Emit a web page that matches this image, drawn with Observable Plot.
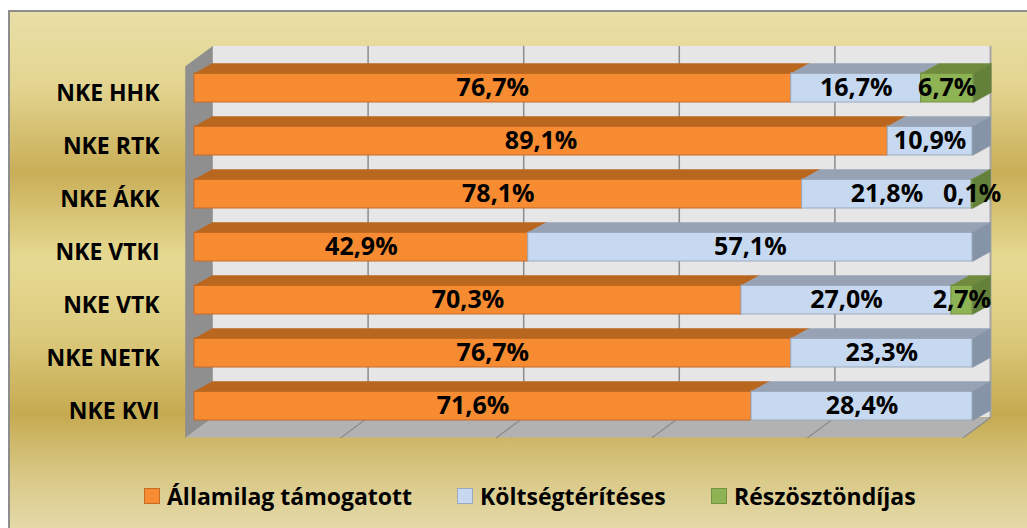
<!DOCTYPE html>
<html>
<head>
<meta charset="utf-8">
<script src="https://cdn.jsdelivr.net/npm/d3@7"></script>
<script src="https://cdn.jsdelivr.net/npm/@observablehq/plot@0.6"></script>
<style>
  html, body { margin: 0; padding: 0; width: 1027px; height: 528px; overflow: hidden; background: #fff; }
  #frame {
    position: absolute; left: 8px; top: 10px; width: 1019px; height: 518px; box-sizing: border-box;
    border: 2px solid #8d8d8d; border-right: none; border-bottom: none;
    background: linear-gradient(to bottom, #e9dfa6 0%, #e3d591 14%, #c9ae57 31%, #e6da93 48%, #dccb7e 62%, #c6aa51 78%, #d9c987 90%, #e4d9a8 100%);
  }
  #chart { position: absolute; left: 0; top: 0; }
  #legend {
    position: absolute; left: 0; top: 480px; width: 1027px; height: 32px;
    font-family: "Open Sans", sans-serif; font-weight: bold; font-size: 23px; color: #000;
  }
  #legend .item { position: absolute; top: 0; display: flex; align-items: center; white-space: nowrap; }
  #legend .sw { width: 14px; height: 14px; border: 1.5px solid; margin-right: 7px; }
</style>
</head>
<body>
<div id="frame"></div>
<div id="chart"></div>
<div id="legend"></div>
<script>
// ---- data ----
const categories = ["NKE HHK", "NKE RTK", "NKE ÁKK", "NKE VTKI", "NKE VTK", "NKE NETK", "NKE KVI"];
const allami  = [76.7, 89.1, 78.1, 42.9, 70.3, 76.7, 71.6];
const koltseg = [16.7, 10.9, 21.8, 57.1, 27.0, 23.3, 28.4];
const resz    = [6.7, 0, 0.1, 0, 2.7, 0, 0];
const seriesNames = ["Államilag támogatott", "Költségtérítéses", "Részösztöndíjas"];
const gridTicks = [20, 40, 60, 80, 100];

// ---- styles ----
const frontColors = ["#f68b32", "#c6d9f1", "#8db354"];
const edgeColors  = ["#c86a2a", "#9aaabd", "#74923f"];
const topColors   = ["#b9661f", "#97a3b4", "#718b3e"];
const sideColors  = ["#a85c1e", "#8594a6", "#64813a"];
const legendLeft  = [144, 457, 711];

// ---- geometry helpers (pixel depth converted to data units) ----
const W = 1027, H = 470;
const xLeft = 194, xRight = 972;
const rowPx = 53, row0 = 87.5;
const ux = 100 / (xRight - xLeft);   // x units per pixel
const uy = 1 / rowPx;                // row units per pixel
const bdx = 18 * ux, bdy = 10 * uy;  // bar depth
const wdx = 27 * ux, wdy = 20 * uy;  // wall depth
const hh = 14.5 * uy;                // half bar height
const backTop = -0.783, backBottom = 6.217;

const series = [allami, koltseg, resz];
const fronts = [], tops = [[], [], []], sides = [[], [], []], labels = [];
categories.forEach((cat, i) => {
  let start = 0;
  const vals = series.map(s => s[i]);
  let last = -1;
  vals.forEach((v, s) => { if (v > 0) last = s; });
  vals.forEach((v, s) => {
    if (!(v > 0)) return;
    const end = start + v;
    fronts.push({row: i, s, x1: start, x2: end});
    const id = `${i}-${s}`;
    const yt = i - hh, yb = i + hh;
    [[start, yt], [end, yt], [end + bdx, yt - bdy], [start + bdx, yt - bdy], [start, yt]]
      .forEach(([x, y]) => tops[s].push({id, x, y}));
    if (s === last) {
      [[end, yt], [end + bdx, yt - bdy], [end + bdx, yb - bdy], [end, yb], [end, yt]]
        .forEach(([x, y]) => sides[s].push({id, x, y}));
    }
    labels.push({row: i, x: (start + end) / 2, text: v.toFixed(1).replace(".", ",") + "%"});
    start = end;
  });
});

const poly = (id, pts) => pts.map(([x, y]) => ({id, x, y}));
const leftWall = poly("lw", [[bdx, backTop], [bdx, backBottom], [bdx - wdx, backBottom + wdy], [bdx - wdx, backTop + wdy], [bdx, backTop]]);
const floor = poly("fl", [[bdx, backBottom], [100 + bdx, backBottom], [100 + bdx - wdx, backBottom + wdy], [bdx - wdx, backBottom + wdy], [bdx, backBottom]]);
const floorGrid = gridTicks.flatMap(t => poly("g" + t, [[t + bdx, backBottom], [t + bdx - wdx, backBottom + wdy]]));

const marks = [
  Plot.rect([0], {x1: bdx, x2: 100 + bdx, y1: backTop, y2: backBottom, fill: "#e6e6e6"}),
  Plot.ruleX(gridTicks.slice(0, -1), {x: d => d + bdx, y1: backTop, y2: backBottom, stroke: "#8c8c8c", strokeWidth: 1.5}),
  Plot.ruleX([100], {x: d => d + bdx, y1: backTop, y2: backBottom, stroke: "#a6a6a6", strokeWidth: 2}),
  Plot.line(leftWall, {x: "x", y: "y", z: "id", fill: "#8f8f8f", stroke: "#888", strokeWidth: 0.5}),
  Plot.line(floor, {x: "x", y: "y", z: "id", fill: "#b2b2b2", stroke: "none"}),
  Plot.line(floorGrid, {x: "x", y: "y", z: "id", stroke: "#8c8c8c", strokeWidth: 1.3}),
];
[0, 1, 2].forEach(s => {
  marks.push(Plot.rect(fronts.filter(d => d.s === s), {x1: "x1", x2: "x2", y1: d => d.row - hh, y2: d => d.row + hh, fill: frontColors[s], stroke: edgeColors[s], strokeWidth: 1}));
  marks.push(Plot.line(tops[s], {x: "x", y: "y", z: "id", fill: topColors[s], stroke: topColors[s], strokeWidth: 0.5}));
  marks.push(Plot.line(sides[s], {x: "x", y: "y", z: "id", fill: sideColors[s], stroke: sideColors[s], strokeWidth: 0.5}));
});
marks.push(Plot.text(labels, {x: "x", y: "row", text: "text", fontSize: 25, fontWeight: "bold", fill: "#000"}));
marks.push(Plot.text(categories, {x: 0, y: (d, i) => i, text: d => d, textAnchor: "end", dx: -35, dy: 6, fontSize: 23, fontWeight: "bold", fill: "#000"}));

const chart = Plot.plot({
  width: W, height: H,
  marginLeft: xLeft, marginRight: W - xRight,
  marginTop: row0 - rowPx, marginBottom: H - (row0 + 7 * rowPx),
  x: {domain: [0, 100], axis: null},
  y: {domain: [-1, 7], reverse: true, axis: null},
  style: {fontFamily: "'Open Sans', sans-serif", background: "transparent", overflow: "visible"},
  marks
});
document.getElementById("chart").appendChild(chart);

// legend
const legend = document.getElementById("legend");
seriesNames.forEach((name, s) => {
  const item = document.createElement("div");
  item.className = "item";
  item.style.left = legendLeft[s] + "px";
  const sw = document.createElement("span");
  sw.className = "sw";
  sw.style.background = frontColors[s];
  sw.style.borderColor = edgeColors[s];
  const t = document.createElement("span");
  t.textContent = name;
  item.appendChild(sw); item.appendChild(t);
  legend.appendChild(item);
});
</script>
</body>
</html>
